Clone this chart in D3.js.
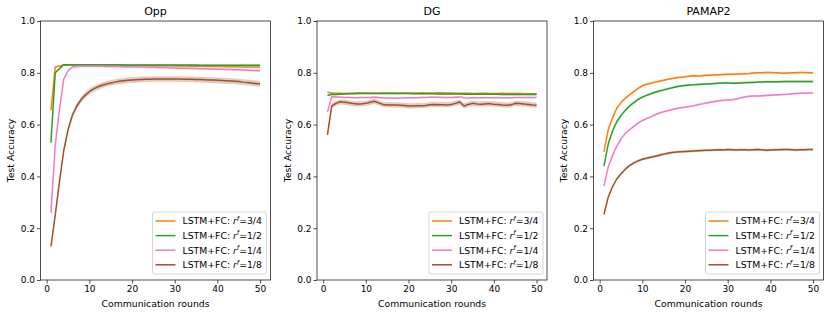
<!doctype html>
<html lang="en">
  <head>
    <meta charset="utf-8">
    <script src="https://cdn.jsdelivr.net/npm/d3@7"></script>
    <style>
      body {margin:0; background:#fff}
      svg {display:block}
      text {font-family:'DejaVu Sans', sans-serif; fill:#000}
      .axis text {font-size:9px}
      .axis path, .axis line {stroke:#222; stroke-width:0.8}
    </style>
    <title>Test accuracy vs communication rounds</title>
  </head>
  <body>
    <script>
      // data
      let titles = ["Opp", "DG", "PAMAP2"];
      let ratios = ["3/4", "1/2", "1/4", "1/8"];
      let colors = ["#ff7f0e", "#2ca02c", "#f37bc6", "#a0522d"];
      let xTicks = [0, 10, 20, 30, 40, 50];
      let yTicks = [0.0, 0.2, 0.4, 0.6, 0.8, 1.0];
      let rounds = [1,2,3,4,5,6,7,8,9,10,11,12,13,14,15,16,17,18,19,20,21,22,23,24,25,
                    26,27,28,29,30,31,32,33,34,35,36,37,38,39,40,41,42,43,44,45,46,47,48,49,50];

      let oppR34 = [0.656,0.822,0.826,0.830,0.830,0.830,0.830,0.830,0.830,0.830,0.830,0.830,0.829,0.829,0.829,0.829,0.829,0.829,0.828,0.828,0.828,0.828,0.828,0.828,0.827,
                    0.827,0.827,0.827,0.827,0.826,0.826,0.826,0.826,0.825,0.825,0.825,0.825,0.824,0.824,0.824,0.824,0.823,0.823,0.823,0.823,0.822,0.822,0.822,0.822,0.822];
      let oppR12 = [0.530,0.800,0.816,0.831,0.831,0.831,0.831,0.831,0.831,0.831,0.831,0.831,0.831,0.831,0.831,0.831,0.831,0.830,0.830,0.830,0.830,0.830,0.830,0.830,0.830,
                    0.830,0.830,0.830,0.830,0.830,0.830,0.830,0.830,0.830,0.830,0.829,0.829,0.829,0.829,0.829,0.829,0.829,0.829,0.829,0.829,0.829,0.829,0.829,0.829,0.829];
      let oppR14 = [0.260,0.520,0.660,0.776,0.808,0.822,0.824,0.825,0.825,0.825,0.825,0.825,0.825,0.824,0.824,0.824,0.824,0.823,0.823,0.823,0.822,0.822,0.822,0.821,0.821,
                    0.820,0.820,0.820,0.819,0.819,0.818,0.818,0.818,0.817,0.817,0.816,0.816,0.815,0.815,0.814,0.814,0.813,0.813,0.812,0.812,0.811,0.810,0.809,0.809,0.808];
      let oppR18 = [0.130,0.250,0.380,0.500,0.580,0.635,0.670,0.695,0.713,0.727,0.738,0.746,0.752,0.757,0.761,0.764,0.767,0.769,0.771,0.772,0.773,0.774,0.775,0.775,0.776,
                    0.776,0.776,0.776,0.776,0.776,0.776,0.775,0.775,0.775,0.774,0.774,0.773,0.772,0.772,0.771,0.770,0.769,0.768,0.767,0.766,0.764,0.763,0.761,0.759,0.757];

      let dgR34 = [0.725,0.722,0.721,0.721,0.720,0.721,0.721,0.722,0.722,0.722,0.721,0.721,0.721,0.722,0.722,0.722,0.721,0.721,0.722,0.722,0.722,0.722,0.723,0.722,0.722,
                   0.722,0.723,0.723,0.722,0.722,0.721,0.721,0.721,0.721,0.720,0.720,0.721,0.721,0.720,0.720,0.720,0.721,0.720,0.720,0.720,0.720,0.719,0.719,0.719,0.719];
      let dgR12 = [0.712,0.717,0.716,0.717,0.718,0.719,0.719,0.720,0.720,0.720,0.720,0.720,0.720,0.720,0.720,0.720,0.720,0.720,0.720,0.720,0.719,0.719,0.719,0.719,0.719,
                   0.719,0.718,0.718,0.718,0.718,0.718,0.718,0.717,0.717,0.717,0.717,0.717,0.717,0.717,0.717,0.717,0.716,0.716,0.716,0.716,0.716,0.716,0.716,0.716,0.716];
      let dgR14 = [0.648,0.708,0.707,0.706,0.705,0.705,0.704,0.704,0.705,0.705,0.705,0.706,0.705,0.704,0.703,0.703,0.702,0.703,0.703,0.704,0.704,0.704,0.705,0.705,0.706,
                   0.706,0.706,0.705,0.705,0.705,0.706,0.707,0.704,0.703,0.704,0.704,0.704,0.704,0.704,0.704,0.705,0.704,0.704,0.704,0.705,0.705,0.705,0.705,0.705,0.705];
      let dgR18 = [0.560,0.672,0.682,0.688,0.686,0.684,0.681,0.680,0.680,0.682,0.686,0.690,0.684,0.678,0.676,0.676,0.676,0.675,0.674,0.672,0.672,0.673,0.673,0.674,0.677,
                   0.678,0.677,0.677,0.676,0.678,0.682,0.687,0.672,0.678,0.682,0.680,0.679,0.680,0.681,0.679,0.678,0.676,0.675,0.676,0.682,0.681,0.680,0.678,0.676,0.675];

      let pamR34 = [0.495,0.580,0.625,0.663,0.685,0.702,0.715,0.728,0.740,0.750,0.756,0.760,0.764,0.767,0.771,0.775,0.778,0.781,0.783,0.785,0.787,0.789,0.788,0.789,0.791,
                    0.791,0.792,0.792,0.793,0.794,0.794,0.795,0.795,0.796,0.797,0.799,0.800,0.800,0.801,0.801,0.800,0.800,0.798,0.799,0.800,0.800,0.801,0.801,0.800,0.799];
      let pamR12 = [0.440,0.525,0.575,0.611,0.635,0.655,0.672,0.685,0.697,0.706,0.713,0.719,0.725,0.730,0.734,0.738,0.742,0.746,0.749,0.751,0.753,0.754,0.755,0.756,0.757,
                    0.758,0.759,0.760,0.761,0.761,0.760,0.760,0.761,0.762,0.763,0.763,0.764,0.764,0.765,0.765,0.765,0.765,0.766,0.766,0.766,0.766,0.766,0.766,0.766,0.766];
      let pamR14 = [0.363,0.437,0.480,0.517,0.545,0.566,0.580,0.593,0.606,0.616,0.623,0.630,0.638,0.645,0.650,0.654,0.658,0.662,0.665,0.667,0.670,0.673,0.677,0.680,0.683,
                    0.686,0.689,0.692,0.694,0.695,0.696,0.699,0.703,0.707,0.709,0.710,0.710,0.711,0.712,0.713,0.714,0.715,0.716,0.717,0.719,0.720,0.721,0.721,0.722,0.722];
      let pamR18 = [0.254,0.320,0.360,0.390,0.410,0.428,0.442,0.452,0.460,0.466,0.470,0.474,0.478,0.482,0.486,0.489,0.492,0.494,0.495,0.496,0.497,0.498,0.499,0.500,0.501,
                    0.501,0.502,0.503,0.502,0.504,0.503,0.502,0.503,0.503,0.502,0.503,0.504,0.503,0.501,0.502,0.503,0.503,0.504,0.504,0.503,0.502,0.503,0.503,0.504,0.504];

      // half width of the shaded band round each line
      let oppSpread = [0.003, 0.003, 0.004, 0.011];
      let dgSpread = [0.003, 0.003, 0.003, 0.010];
      let pamSpread = [0.004, 0.004, 0.004, 0.005];

      let panels = [
        {title:titles[0], series:[oppR34, oppR12, oppR14, oppR18], spread:oppSpread},
        {title:titles[1], series:[dgR34, dgR12, dgR14, dgR18], spread:dgSpread},
        {title:titles[2], series:[pamR34, pamR12, pamR14, pamR18], spread:pamSpread}
      ];

      let W = 830, H = 315;
      let yTop = 21, yBottom = 280, pw = 230, gap = 276.5, left0 = 40.5;

      let svg = d3.select("body").append("svg")
        .attr("width", W)
        .attr("height", H);

      panels.forEach((p, i) => {
        let left = left0 + i*gap;
        let x = d3.scaleLinear().domain([-1.45, 52.45]).range([left, left+pw]);
        let y = d3.scaleLinear().domain([0, 1]).range([yBottom, yTop]);

        let g = svg.append("g");

        let line = d3.line()
          .x((d, k) => x(rounds[k]))
          .y(d => y(d));

        p.series.forEach((s, j) => {
          let area = d3.area()
            .x((d, k) => x(rounds[k]))
            .y0(d => y(d - p.spread[j]))
            .y1(d => y(d + p.spread[j]));
          g.append("path")
            .attr("d", area(s))
            .attr("fill", colors[j])
            .attr("fill-opacity", 0.3);
          g.append("path")
            .attr("d", line(s))
            .attr("fill", "none")
            .attr("stroke", colors[j])
            .attr("stroke-width", 1.5)
            .attr("stroke-linejoin", "round");
        });

        // frame
        g.append("rect")
          .attr("x", left).attr("y", yTop)
          .attr("width", pw).attr("height", yBottom-yTop)
          .attr("fill", "none")
          .attr("stroke", "#222")
          .attr("stroke-width", 0.8);

        let xAxis = d3.axisBottom(x).tickValues(xTicks).tickSize(3.5).tickPadding(2).tickFormat(d3.format("d"));
        let yAxis = d3.axisLeft(y).tickValues(yTicks).tickSize(3.5).tickPadding(2).tickFormat(d3.format(".1f"));

        g.append("g")
          .attr("class", "axis")
          .attr("transform", "translate(0," + yBottom + ")")
          .call(xAxis)
          .call(a => a.select(".domain").remove());

        g.append("g")
          .attr("class", "axis")
          .attr("transform", "translate(" + left + ",0)")
          .call(yAxis)
          .call(a => a.select(".domain").remove());

        g.selectAll(".axis text").attr("fill", "#000").attr("font-family", "'DejaVu Sans', sans-serif");

        g.append("text")
          .attr("x", left + pw/2)
          .attr("y", 15)
          .attr("text-anchor", "middle")
          .attr("font-size", "11px")
          .text(p.title);

        g.append("text")
          .attr("x", left + pw/2)
          .attr("y", 307)
          .attr("text-anchor", "middle")
          .attr("font-size", "9.3px")
          .text("Communication rounds");

        g.append("text")
          .attr("transform", "translate(" + (left-26.5) + "," + ((yTop+yBottom)/2) + ") rotate(-90)")
          .attr("text-anchor", "middle")
          .attr("font-size", "9.3px")
          .text("Test Accuracy");

        // legend, lower right
        let lx = left + pw - 118, ly = yBottom - 68;
        let lg = g.append("g").attr("transform", "translate(" + lx + "," + ly + ")");
        lg.append("rect")
          .attr("width", 114).attr("height", 62)
          .attr("rx", 2)
          .attr("fill", "#fff").attr("fill-opacity", 0.8)
          .attr("stroke", "#ccc").attr("stroke-width", 0.8);

        ratios.forEach((r, j) => {
          let yy = 9 + j*14.6;
          lg.append("line")
            .attr("x1", 3).attr("x2", 23)
            .attr("y1", yy).attr("y2", yy)
            .attr("stroke", colors[j])
            .attr("stroke-width", 1.5);
          let t = lg.append("text")
            .attr("x", 30).attr("y", yy + 3.3)
            .attr("font-size", "9.3px");
          t.append("tspan").text("LSTM+FC: ");
          t.append("tspan").attr("font-style", "italic").text("r");
          t.append("tspan").attr("font-style", "italic").attr("font-size", "6.5px").attr("dy", -3.5).text("f");
          t.append("tspan").attr("dy", 3.5).text("=" + r);
        });
      });
    </script>
  </body>
</html>
